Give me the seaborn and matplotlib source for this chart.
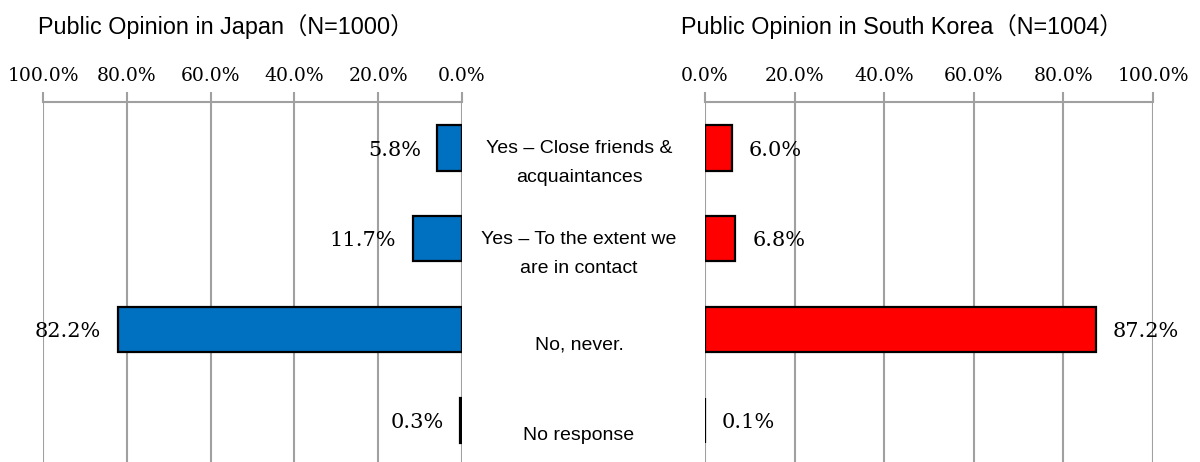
import matplotlib
matplotlib.use("Agg")
import matplotlib.pyplot as plt
import matplotlib.transforms as mtransforms
import seaborn as sns
import pandas as pd

# Survey answers (percent of respondents)
categories = [
    "Yes – Close friends &\nacquaintances",
    "Yes – To the extent we\nare in contact",
    "No, never.",
    "No response",
]
japan_pct = [5.8, 11.7, 82.2, 0.3]
korea_pct = [6.0, 6.8, 87.2, 0.1]
tick_values = [0, 20, 40, 60, 80, 100]
japan_title = "Public Opinion in Japan（N=1000）"
korea_title = "Public Opinion in South Korea（N=1004）"

df = pd.DataFrame({"category": categories, "Japan": japan_pct, "Korea": korea_pct})

sns.set_theme(style="white")
plt.rcParams["font.family"] = ["Liberation Sans", "Noto Sans CJK JP", "DejaVu Sans"]
plt.rcParams["text.color"] = "black"

W, H = 1200, 462
fig = plt.figure(figsize=(W / 100, H / 100), dpi=100)

ax_jp = fig.add_axes([43.3 / W, 0, 418.4 / W, (H - 101.7) / H])
ax_kr = fig.add_axes([705 / W, 0, 448 / W, (H - 101.7) / H])

grid_col = "#a0a0a0"
serif = ["DejaVu Serif"]

for ax, col, color, xlim in [
    (ax_jp, "Japan", "#0070C0", (100, 0)),
    (ax_kr, "Korea", "#FF0000", (0, 100)),
]:
    sns.barplot(data=df, x=col, y="category", order=categories, color=color,
                edgecolor="black", linewidth=1.6, width=0.5, saturation=1,
                orient="h", ax=ax)
    ax.set_xlim(*xlim)
    ax.set_ylim(3.46, -0.51)
    ax.set_xlabel("")
    ax.set_ylabel("")
    ax.set_yticks([])
    ax.set_xticks(tick_values)
    ax.set_xticklabels([f"{v:.1f}%" for v in tick_values], family=serif, fontsize=13.5)
    ax.xaxis.tick_top()
    ax.tick_params(axis="x", direction="out", length=7, width=1.5, color=grid_col,
                   labelcolor="black", pad=5, top=True, bottom=False)
    for s in ["left", "right", "bottom"]:
        ax.spines[s].set_visible(False)
    ax.spines["top"].set_color(grid_col)
    ax.spines["top"].set_linewidth(1.5)
    ax.grid(axis="x", color=grid_col, linewidth=1.5)
    ax.set_axisbelow(True)
    ax.patch.set_alpha(0)

    right_side = col == "Korea"
    for i, v in enumerate(df[col]):
        ax.annotate(f"{v:.1f}%", xy=(v, i), xytext=(12 if right_side else -12, -1.5),
                    textcoords="offset points", va="center",
                    ha="left" if right_side else "right",
                    family=serif, fontsize=15, color="black")

# Category labels between the two panels
trans = mtransforms.blended_transform_factory(fig.transFigure, ax_kr.transData)
for i, cat in enumerate(categories):
    ax_kr.annotate(cat, xy=(579 / W, i), xycoords=trans, xytext=(0, -11),
                   textcoords="offset points", ha="center", va="center",
                   fontsize=14, linespacing=1.9, color="black",
                   annotation_clip=False)

fig.text(38.5 / W, 1 - 27 / H, japan_title, fontsize=16.8, va="center", ha="left",
         color="black")
fig.text(681 / W, 1 - 27 / H, korea_title, fontsize=16.8, va="center", ha="left",
         color="black")

fig.savefig("out.png", dpi=100)
